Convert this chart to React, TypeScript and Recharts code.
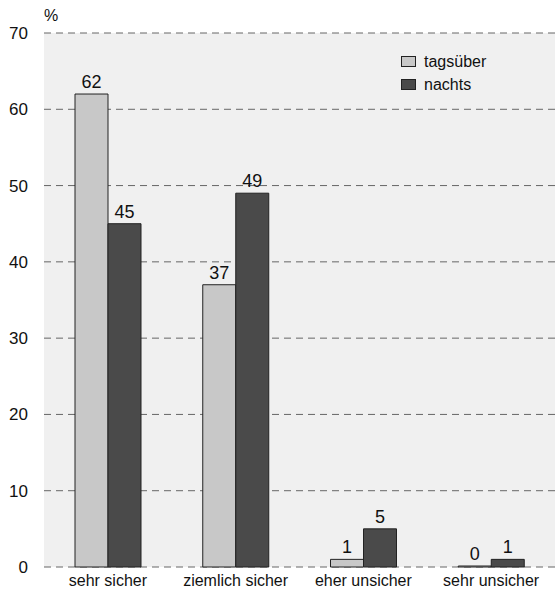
import { BarChart, Bar, XAxis, YAxis, CartesianGrid, LabelList } from 'recharts';

const categories = ['sehr sicher', 'ziemlich sicher', 'eher unsicher', 'sehr unsicher'];
const tagsueber = [62, 37, 1, 0];
const nachts = [45, 49, 5, 1];
const yTicks = [0, 10, 20, 30, 40, 50, 60, 70];

const data = categories.map((name, i) => ({ name, tagsueber: tagsueber[i], nachts: nachts[i] }));

const FONT = '"Liberation Sans", Arial, Helvetica, sans-serif';

const legendItems = [
  { label: 'tagsüber', color: '#c8c8c8' },
  { label: 'nachts', color: '#4a4a4a' },
];

function LegendBox() {
  return (
    <div style={{ position: 'absolute', left: 401, top: 50, fontFamily: FONT, fontSize: 16, color: '#111' }}>
      {legendItems.map(it => (
        <div key={it.label} style={{ display: 'flex', alignItems: 'center', height: 23 }}>
          <span style={{ display: 'inline-block', width: 13, height: 9, background: it.color, border: '1px solid #222', marginRight: 8 }} />
          {it.label}
        </div>
      ))}
    </div>
  );
}

export default function App() {
  return (
    <div style={{ position: 'absolute', left: 0, top: 0, width: 555, height: 591, background: '#fff', fontFamily: FONT }}>
      <BarChart width={555} height={591} data={data} margin={{ top: 33, right: 0, bottom: 0, left: 0 }} barGap={0} barSize={33}>
        <CartesianGrid vertical={false} fill="#f0f0f0" stroke="#666" strokeDasharray="7 5" />
        <XAxis dataKey="name" axisLine={false} tickLine={false} height={24} tick={{ fontSize: 16, fill: '#111', fontFamily: FONT }} tickMargin={2} interval={0} />
        <YAxis domain={[0, 70]} ticks={yTicks} width={44} axisLine={false} tickLine={false} tick={{ fontSize: 17, fill: '#111', fontFamily: FONT }} tickMargin={10} />
        <Bar dataKey="tagsueber" name="tagsüber" fill="#c8c8c8" stroke="#222" strokeWidth={1} minPointSize={1} isAnimationActive={false}>
          <LabelList dataKey="tagsueber" position="top" offset={6} style={{ fontSize: 18, fill: '#111', fontFamily: FONT }} />
        </Bar>
        <Bar dataKey="nachts" name="nachts" fill="#4a4a4a" stroke="#222" strokeWidth={1} isAnimationActive={false}>
          <LabelList dataKey="nachts" position="top" offset={6} style={{ fontSize: 18, fill: '#111', fontFamily: FONT }} />
        </Bar>
      </BarChart>
      <div style={{ position: 'absolute', left: 44, top: 7, fontSize: 16, color: '#111' }}>%</div>
      <LegendBox />
    </div>
  );
}
